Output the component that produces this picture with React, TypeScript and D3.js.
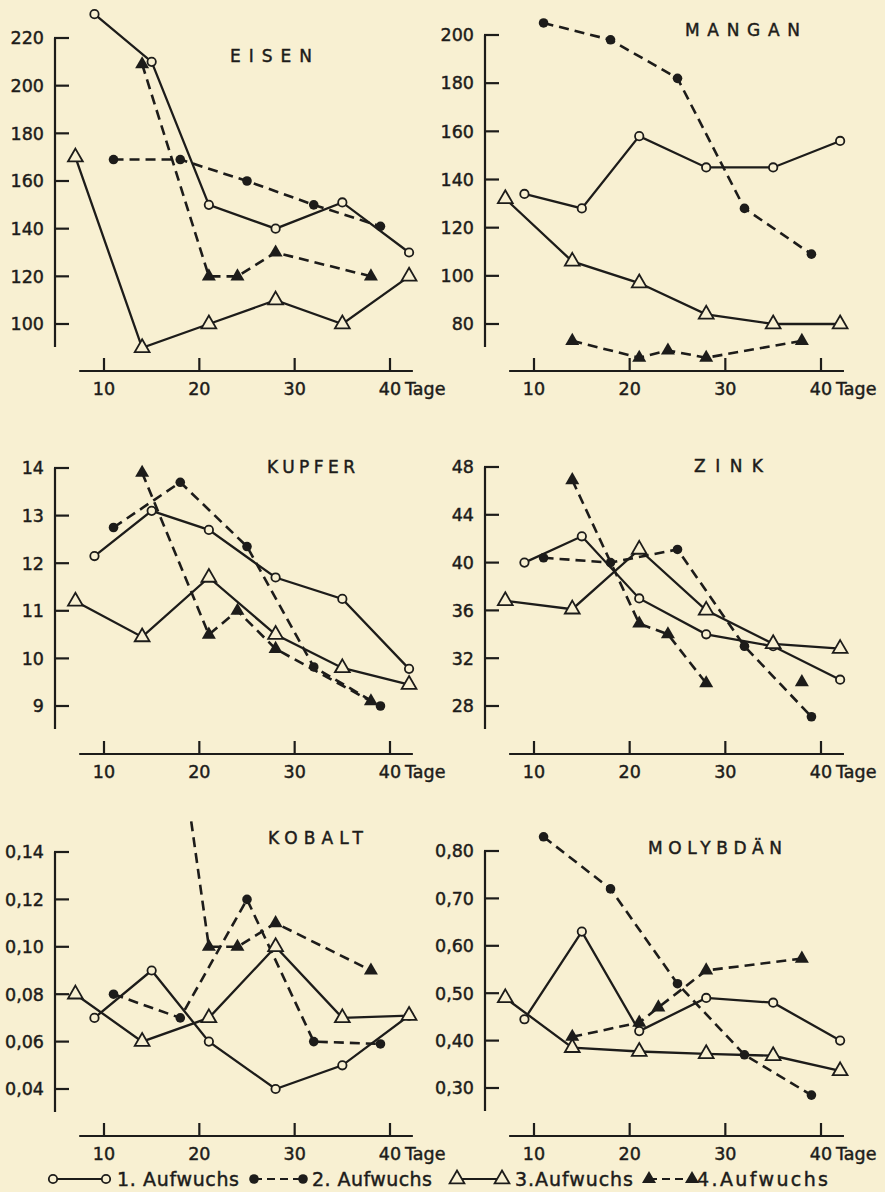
import React from 'react';
import * as d3 from 'd3';

// sampling days of the four growths (Aufwuchs)
const days1 = [9, 15, 21, 28, 35, 42];
const days2 = [11, 18, 25, 32, 39];
const days3 = [7, 14, 21, 28, 35, 42];
const days4 = [14, 21, 24, 28, 38];
const days4Mo = [14, 21, 23, 28, 38];
const xTicks = [10, 20, 30, 40];

const eisenTicks = [100, 120, 140, 160, 180, 200, 220];
const eisen1 = [230, 210, 150, 140, 151, 130];
const eisen2 = [169, 169, 160, 150, 141];
const eisen3 = [170, 90, 100, 110, 100, 120];
const eisen4 = [209, 120, 120, 130, 120];

const manganTicks = [80, 100, 120, 140, 160, 180, 200];
const mangan1 = [134, 128, 158, 145, 145, 156];
const mangan2 = [205, 198, 182, 128, 109];
const mangan3 = [132, 106, 97, 84, 80, 80];
const mangan4 = [73, 66, 69, 66, 73];

const kupferTicks = [9, 10, 11, 12, 13, 14];
const kupfer1 = [12.15, 13.1, 12.7, 11.7, 11.25, 9.78];
const kupfer2 = [12.75, 13.7, 12.35, 9.82, 9.0];
const kupfer3 = [11.2, 10.45, 11.7, 10.5, 9.8, 9.45];
const kupfer4 = [13.9, 10.5, 11.0, 10.2, 9.1];

const zinkTicks = [28, 32, 36, 40, 44, 48];
const zink1 = [40, 42.2, 37, 34, 33, 30.2];
const zink2 = [40.4, 40, 41.1, 33, 27.1];
const zink3 = [36.8, 36.1, 41.1, 36, 33.2, 32.8];
const zink4 = [46.9, 34.9, 34, 29.9, 30];

const kobaltTicks = [0.04, 0.06, 0.08, 0.1, 0.12, 0.14];
const kobalt1 = [0.07, 0.09, 0.06, 0.04, 0.05, 0.071];
const kobalt2 = [0.08, 0.07, 0.12, 0.06, 0.059];
const kobalt3 = [0.08, 0.06, 0.07, 0.1, 0.07, 0.071];
const kobalt4 = [0.3, 0.1, 0.1, 0.11, 0.09];

const molybTicks = [0.3, 0.4, 0.5, 0.6, 0.7, 0.8];
const molyb1 = [0.445, 0.63, 0.42, 0.49, 0.48, 0.4];
const molyb2 = [0.83, 0.72, 0.52, 0.37, 0.285];
const molyb3 = [0.49, 0.385, 0.377, 0.372, 0.368, 0.336];
const molyb4 = [0.408, 0.438, 0.47, 0.548, 0.573];

const legendLabels = ['1. Aufwuchs', '2. Aufwuchs', '3.Aufwuchs', '4.Aufwuchs'];

const INK = '#1d1c1a';
const BG = '#f8f0d2';
const FONT = "'DejaVu Sans', sans-serif";
const DASH = '10,6';

const cols = [
  { axisX: 55, x10: 104, x40: 390 },
  { axisX: 485, x10: 534, x40: 821 },
];
const rows = [371, 754, 1136];

const comma = (f: string) => (v: number) => d3.format(f)(v).replace('.', ',');

const panels = [
  { title: 'EISEN', col: 0, row: 0, ticks: eisenTicks, yTop: 38, yBot: 324, fmt: comma('d'),
    tx: 230, ty: 62, tw: 82, s: [eisen1, eisen2, eisen3, eisen4], d4: days4 },
  { title: 'MANGAN', col: 1, row: 0, ticks: manganTicks, yTop: 35, yBot: 324, fmt: comma('d'),
    tx: 685, ty: 36, tw: 115, s: [mangan1, mangan2, mangan3, mangan4], d4: days4 },
  { title: 'KUPFER', col: 0, row: 1, ticks: kupferTicks, yTop: 468, yBot: 706, fmt: comma('d'),
    tx: 267, ty: 473, tw: 88, s: [kupfer1, kupfer2, kupfer3, kupfer4], d4: days4 },
  { title: 'ZINK', col: 1, row: 1, ticks: zinkTicks, yTop: 467, yBot: 706, fmt: comma('d'),
    tx: 694, ty: 472, tw: 69, s: [zink1, zink2, zink3, zink4], d4: days4, break4: 4 },
  { title: 'KOBALT', col: 0, row: 2, ticks: kobaltTicks, yTop: 852, yBot: 1089, fmt: comma('.2f'),
    tx: 268, ty: 844, tw: 95, s: [kobalt1, kobalt2, kobalt3, kobalt4], d4: days4, clipTop: 818 },
  { title: 'MOLYBDÄN', col: 1, row: 2, ticks: molybTicks, yTop: 851, yBot: 1088, fmt: comma('.2f'),
    tx: 648, ty: 854, tw: 134, s: [molyb1, molyb2, molyb3, molyb4], d4: days4Mo },
];

const circleOpen = (x: number, y: number, k: string) => (
  <circle key={k} cx={x} cy={y} r={4.2} fill={BG} stroke={INK} strokeWidth={1.8} />
);
const circleFull = (x: number, y: number, k: string) => (
  <circle key={k} cx={x} cy={y} r={4.8} fill={INK} />
);
const triOpenPath = d3.symbol(d3.symbolTriangle, 95)()!;
const triFullPath = d3.symbol(d3.symbolTriangle, 85)()!;
const triOpen = (x: number, y: number, k: string) => (
  <path key={k} d={triOpenPath} transform={`translate(${x},${y})`} fill={BG} stroke={INK} strokeWidth={1.8} />
);
const triFull = (x: number, y: number, k: string) => (
  <path key={k} d={triFullPath} transform={`translate(${x},${y})`} fill={INK} />
);
const markers = [circleOpen, circleFull, triOpen, triFull];
const dashes = [undefined, DASH, undefined, DASH];

const textProps = { fill: INK, stroke: INK, strokeWidth: 0.45 };

function Panel({ p, i }: { p: any; i: number }) {
  const c = cols[p.col];
  const axisY = rows[p.row];
  const x = d3.scaleLinear().domain([10, 40]).range([c.x10, c.x40]);
  const lo = p.ticks[0];
  const hi = p.ticks[p.ticks.length - 1];
  const y = d3.scaleLinear().domain([lo, hi]).range([p.yBot, p.yTop]);
  const daysFor = [days1, days2, days3, p.d4];
  const line = d3.line<[number, number]>().x((d) => x(d[0])).y((d) => y(d[1]));
  const series = p.s.map((vals: number[], si: number) =>
    vals.map((v, j) => [daysFor[si][j], v] as [number, number]));
  const clipId = `clip${i}`;
  const clip = p.clipTop !== undefined ? `url(#${clipId})` : undefined;

  return (
    <g>
      {p.clipTop !== undefined && (
        <clipPath id={clipId}>
          <rect x={c.axisX} y={p.clipTop} width={400} height={400} />
        </clipPath>
      )}
      {/* y axis */}
      <line x1={c.axisX} x2={c.axisX} y1={p.yTop} y2={p.yBot + 23} stroke={INK} strokeWidth={2.2} />
      {p.ticks.map((t: number) => (
        <g key={t}>
          <line x1={c.axisX - 1} x2={c.axisX + 14} y1={y(t)} y2={y(t)} stroke={INK} strokeWidth={2.2} />
          <text x={c.axisX - 11} y={y(t)} dy="0.36em" textAnchor="end" fontSize={17.5} {...textProps}>
            {p.fmt(t)}
          </text>
        </g>
      ))}
      {/* x axis */}
      <line x1={x(7.4)} x2={x(42.4)} y1={axisY} y2={axisY} stroke={INK} strokeWidth={2.2} />
      {xTicks.map((t) => (
        <g key={t}>
          <line x1={x(t)} x2={x(t)} y1={axisY} y2={axisY - 13} stroke={INK} strokeWidth={2.2} />
          <text x={x(t)} y={axisY + 24} textAnchor="middle" fontSize={17.5} {...textProps}>{t}</text>
        </g>
      ))}
      <text x={x(40) + 15} y={axisY + 24} fontSize={17.5} {...textProps}>Tage</text>
      {/* title */}
      <text x={p.tx} y={p.ty} fontSize={17} textLength={p.tw} lengthAdjust="spacing" {...textProps}>
        {p.title}
      </text>
      {/* lines */}
      <g clipPath={clip}>
        {series.map((pts: [number, number][], si: number) => {
          const seg = si === 3 && p.break4 !== undefined ? pts.slice(0, p.break4) : pts;
          return (
            <path key={si} d={line(seg)!} fill="none" stroke={INK}
              strokeWidth={dashes[si] ? 2.6 : 2.3} strokeDasharray={dashes[si]} />
          );
        })}
        {series.map((pts: [number, number][], si: number) =>
          pts.map((d, j) => markers[si](x(d[0]), y(d[1]), `${si}-${j}`)))}
      </g>
    </g>
  );
}

function Legend() {
  const ly = 1179;
  const items = [
    { x0: 53, x1: 106, tx: 117, tw: 122 },
    { x0: 254, x1: 303, tx: 312, tw: 120 },
    { x0: 457, x1: 502, tx: 515, tw: 118 },
    { x0: 649, x1: 692, tx: 697, tw: 131 },
  ];
  return (
    <g>
      {items.map((it, i) => (
        <g key={i}>
          <line x1={it.x0} x2={it.x1} y1={ly} y2={ly} stroke={INK} strokeWidth={2.2}
            strokeDasharray={dashes[i] ? '8,5' : undefined} />
          {markers[i](it.x0, ly, `a${i}`)}
          {markers[i](it.x1, ly, `b${i}`)}
          <text x={it.tx} y={ly + 7} fontSize={19} textLength={it.tw} lengthAdjust="spacing" {...textProps}>
            {legendLabels[i]}
          </text>
        </g>
      ))}
    </g>
  );
}

export default function App() {
  return (
    <svg width={885} height={1192} style={{ position: 'absolute', left: 0, top: 0 }}
      fontFamily={FONT}>
      <rect width={885} height={1192} fill={BG} />
      {panels.map((p, i) => <Panel key={p.title} p={p} i={i} />)}
      <Legend />
    </svg>
  );
}
